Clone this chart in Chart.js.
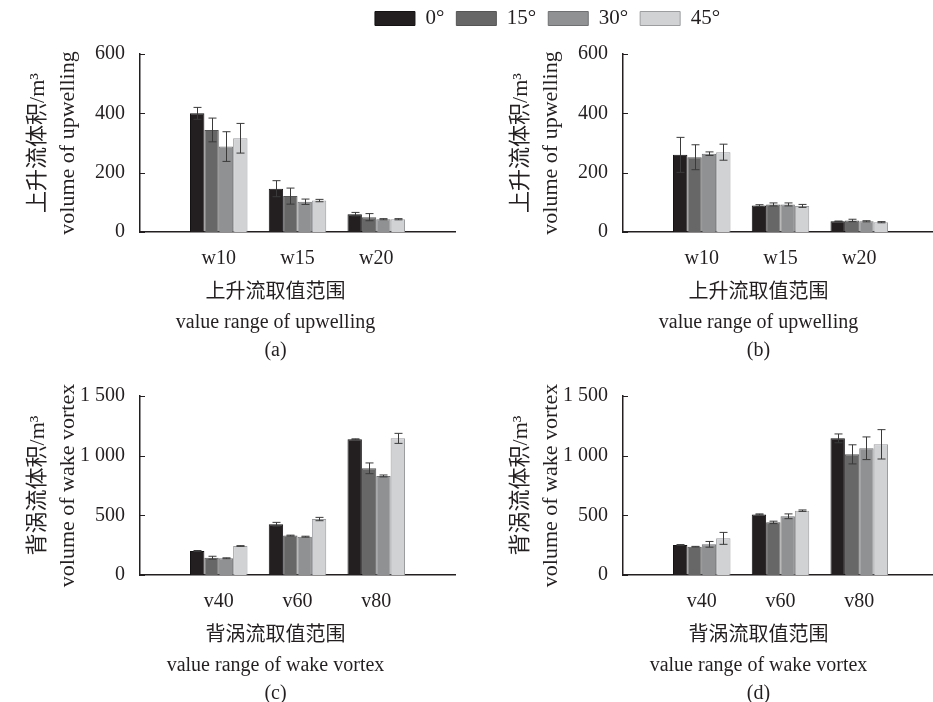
<!DOCTYPE html>
<html>
<head>
<meta charset="utf-8">
<script src="https://cdn.jsdelivr.net/npm/chart.js@4.4.1/dist/chart.umd.min.js"></script>
<style>
  html, body { margin: 0; padding: 0; background: #fff; width: 933px; height: 702px; overflow: hidden; position: relative; }
  canvas { position: absolute; }
</style>
</head>
<body>
<canvas id="panelA" width="470" height="330" style="left:0px;top:40px"></canvas>
<canvas id="panelB" width="470" height="330" style="left:483px;top:40px"></canvas>
<canvas id="panelC" width="470" height="330" style="left:0px;top:383px"></canvas>
<canvas id="panelD" width="470" height="330" style="left:483px;top:383px"></canvas>
<canvas id="legendChart" width="933" height="100" style="left:0px;top:-4px"></canvas>
<script>
// Series: inclination angle
const angles = ['0°', '15°', '30°', '45°'];

// Categories
const upwellingCats = ['w10', 'w15', 'w20'];
const wakeCats = ['v40', 'v60', 'v80'];

// Y tick values and their printed labels
const upwellingTicks = [0, 200, 400, 600];
const upwellingTickLabels = ['0', '200', '400', '600'];
const wakeTicks = [0, 500, 1000, 1500];
const wakeTickLabels = ['0', '500', '1 000', '1 500'];

// (a) upwelling volume, per angle, and standard errors
const a0 = [400, 146, 60],  aErr0 = [20, 27, 6];
const a15 = [344, 121, 50], aErr15 = [40, 27, 12];
const a30 = [288, 102, 43], aErr30 = [50, 9, 2];
const a45 = [316, 106, 43], aErr45 = [50, 4, 2];

// (b) upwelling volume
const b0 = [260, 89, 36],  bErr0 = [59, 3, 1];
const b15 = [252, 93, 39], bErr15 = [42, 5, 4];
const b30 = [264, 93, 36], bErr30 = [6, 5, 2];
const b45 = [269, 88, 33], bErr45 = [27, 5, 2];

// (c) wake vortex volume
const c0 = [201, 425, 1137], cErr0 = [4, 16, 4];
const c15 = [145, 330, 894], cErr15 = [12, 4, 45];
const c30 = [140, 321, 830], cErr30 = [4, 4, 8];
const c45 = [243, 469, 1145], cErr45 = [3, 14, 42];

// (d) wake vortex volume
const d0 = [251, 508, 1145], dErr0 = [4, 4, 37];
const d15 = [237, 441, 1011], dErr15 = [3, 10, 80];
const d30 = [257, 492, 1062], dErr30 = [24, 20, 95];
const d45 = [307, 539, 1095], dErr45 = [50, 6, 123];

const fills = ['#231f20', '#676767', '#909193', '#d1d2d4'];
const edges = ['#141213', '#555555', '#6f7072', '#9c9d9f'];
const ink = '#231f20';
const FAMILY = "'Liberation Serif', 'Noto Sans CJK SC', serif";

// Vertical error bars with caps, drawn on top of the bars
const errorBars = {
  id: 'errorBars',
  afterDatasetsDraw(chart) {
    const ctx = chart.ctx;
    const y = chart.scales.y;
    chart.data.datasets.forEach((ds, di) => {
      const meta = chart.getDatasetMeta(di);
      if (!ds.errors) return;
      meta.data.forEach((bar, i) => {
        const v = ds.data[i], e = ds.errors[i];
        if (v == null || e == null) return;
        const x = Math.round(bar.x) + 0.5;
        const top = y.getPixelForValue(v + e);
        const bot = y.getPixelForValue(v - e);
        ctx.save();
        ctx.strokeStyle = '#3a3a3a';
        ctx.lineWidth = 1;
        ctx.beginPath();
        ctx.moveTo(x, top); ctx.lineTo(x, bot);
        ctx.moveTo(x - 4, top); ctx.lineTo(x + 4, top);
        ctx.moveTo(x - 4, bot); ctx.lineTo(x + 4, bot);
        ctx.stroke();
        ctx.restore();
      });
    });
  }
};

// Short tick marks pointing into the plot area from the y axis
const innerTicks = {
  id: 'innerTicks',
  afterDraw(chart) {
    const y = chart.scales.y;
    if (!y) return;
    const ctx = chart.ctx;
    const left = chart.chartArea.left;
    ctx.save();
    ctx.strokeStyle = ink;
    ctx.lineWidth = 1.2;
    ctx.beginPath();
    y.ticks.forEach(t => {
      const py = Math.round(y.getPixelForValue(t.value)) + 0.5;
      ctx.moveTo(left, py);
      ctx.lineTo(left + 5, py);
    });
    ctx.stroke();
    ctx.restore();
  }
};

// Axis caption lines and panel letter under the category axis
const captions = {
  id: 'captions',
  afterDraw(chart, args, opts) {
    if (!opts.lines) return;
    const ctx = chart.ctx;
    const area = chart.chartArea;
    const cx = (area.left + area.right) / 2 - 22;
    ctx.save();
    ctx.fillStyle = ink;
    ctx.font = '20px ' + FAMILY;
    ctx.textAlign = 'center';
    ctx.textBaseline = 'middle';
    opts.lines.forEach((line, i) => {
      ctx.fillText(line, cx, area.bottom + opts.offsets[i]);
    });
    ctx.restore();
  }
};

function makePanel(id, cats, series, errs, ticks, tickLabels, yTitle, xLines, padTop, yMax) {
  // blank slot on each side of the three groups
  const labels = [''].concat(cats, ['']);
  const datasets = angles.map((name, k) => ({
    label: name,
    data: [null].concat(series[k], [null]),
    errors: [null].concat(errs[k], [null]),
    backgroundColor: fills[k],
    borderColor: edges[k],
    borderWidth: 1,
    categoryPercentage: 0.73,
    barPercentage: 1.0
  }));
  return new Chart(document.getElementById(id), {
    type: 'bar',
    data: { labels, datasets },
    plugins: [errorBars, innerTicks, captions],
    options: {
      responsive: false,
      animation: false,
      events: [],
      layout: { padding: { top: padTop, right: 12, left: 0, bottom: 0 } },
      plugins: {
        legend: { display: false },
        tooltip: { enabled: false },
        captions: { lines: xLines, offsets: [61, 91, 119] }
      },
      scales: {
        x: {
          offset: false,
          grid: { display: false, drawTicks: false },
          border: { display: true, color: ink, width: 1.5 },
          ticks: { color: ink, padding: 15, font: { family: FAMILY, size: 20 } },
          afterFit(scale) { scale.height = 138; }
        },
        y: {
          min: 0,
          max: yMax,
          grid: { display: false, drawTicks: false },
          border: { display: true, color: ink, width: 1.5 },
          afterBuildTicks(scale) { scale.ticks = ticks.map(v => ({ value: v })); },
          ticks: {
            color: ink,
            padding: 15,
            font: { family: FAMILY, size: 20 },
            callback: (value, index) => tickLabels[index]
          },
          title: {
            display: true,
            text: yTitle,
            color: ink,
            padding: { top: 23, bottom: 0 },
            font: { family: FAMILY, size: 22, lineHeight: '30px' }
          },
          afterFit(scale) {
            scale.width = 140;
            scale.paddingTop = 0;
            scale.paddingBottom = 0;
          }
        }
      }
    }
  });
}

makePanel('panelA', upwellingCats, [a0, a15, a30, a45], [aErr0, aErr15, aErr30, aErr45],
  upwellingTicks, upwellingTickLabels, ['上升流体积/m³', 'volume of upwelling'],
  ['上升流取值范围', 'value range of upwelling', '(a)'], 14, 600);
makePanel('panelB', upwellingCats, [b0, b15, b30, b45], [bErr0, bErr15, bErr30, bErr45],
  upwellingTicks, upwellingTickLabels, ['上升流体积/m³', 'volume of upwelling'],
  ['上升流取值范围', 'value range of upwelling', '(b)'], 14, 600);
makePanel('panelC', wakeCats, [c0, c15, c30, c45], [cErr0, cErr15, cErr30, cErr45],
  wakeTicks, wakeTickLabels, ['背涡流体积/m³', 'volume of wake vortex'],
  ['背涡流取值范围', 'value range of wake vortex', '(c)'], 13, 1500);
makePanel('panelD', wakeCats, [d0, d15, d30, d45], [dErr0, dErr15, dErr30, dErr45],
  wakeTicks, wakeTickLabels, ['背涡流体积/m³', 'volume of wake vortex'],
  ['背涡流取值范围', 'value range of wake vortex', '(d)'], 13, 1500);

// Shared legend across the top
new Chart(document.getElementById('legendChart'), {
  type: 'bar',
  data: {
    labels: [],
    datasets: angles.map((name, k) => ({
      label: name, data: [], backgroundColor: fills[k], borderColor: edges[k], borderWidth: 1
    }))
  },
  options: {
    responsive: false,
    animation: false,
    events: [],
    layout: { padding: { left: 162, top: 0 } },
    plugins: {
      tooltip: { enabled: false },
      legend: {
        display: true,
        position: 'top',
        labels: {
          boxWidth: 40,
          boxHeight: 14,
          padding: 12,
          color: ink,
          font: { family: FAMILY, size: 21 }
        }
      }
    },
    scales: { x: { display: false }, y: { display: false } }
  }
});
</script>
</body>
</html>
